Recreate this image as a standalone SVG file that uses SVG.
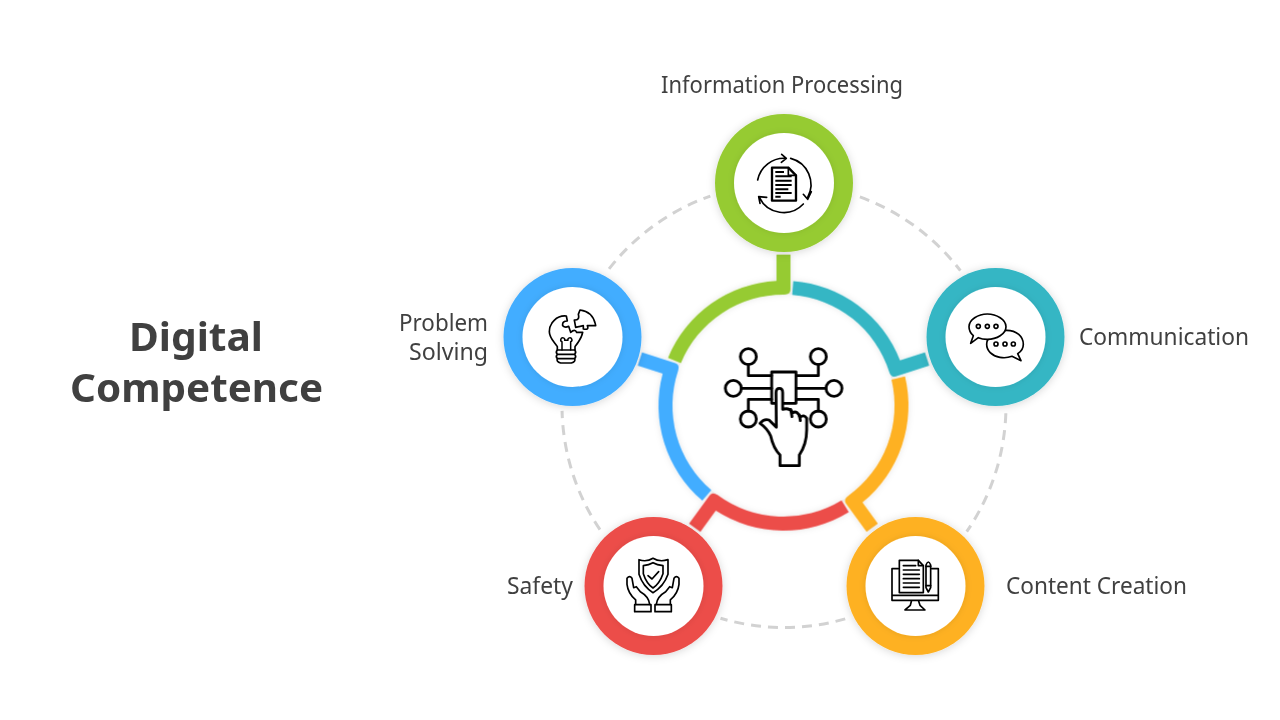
<svg xmlns="http://www.w3.org/2000/svg" width="1280" height="720" viewBox="0 0 1280 720">
<style>
.lbl{font-family:"Noto Sans","Open Sans",sans-serif;font-size:23px;fill:#404040}
.ttl{font-family:"Noto Sans","Open Sans",sans-serif;font-size:40px;font-weight:700;fill:#404040}
.dash{fill:none;stroke:#d2d2d2;stroke-width:3;stroke-dasharray:10 7}
.ic{fill:none;stroke:#000;stroke-linecap:round;stroke-linejoin:round}
.w{fill:#fff}
</style>
<defs>
<filter id="sh" x="-30%" y="-30%" width="160%" height="160%"><feDropShadow dx="0" dy="1" stdDeviation="4" flood-color="#000" flood-opacity=".16"/></filter>
<filter id="sh2" x="-30%" y="-30%" width="160%" height="160%"><feDropShadow dx="0" dy="0" stdDeviation="3" flood-color="#000" flood-opacity=".1"/></filter>
<path id="seg" d="M-115.5,-47.8 A125,125 0 0 1 -7,-124.8 L-7,-151 L7,-151 L7,-116 Q7,-111.2 1,-111 A111,111 0 0 0 -102.6,-42.5 Z"/>
</defs>
<rect width="1280" height="720" fill="#fff"/>
<g id="connectors">
<g class="dash" transform="translate(784,405.5)">
<path d="M75.9,-208.6 A222,222 0 0 1 176.4,-134.8"/>
<path d="M75.9,-208.6 A222,222 0 0 1 176.4,-134.8" transform="rotate(72)"/>
<path d="M75.9,-208.6 A222,222 0 0 1 176.4,-134.8" transform="rotate(144)"/>
<path d="M75.9,-208.6 A222,222 0 0 1 176.4,-134.8" transform="rotate(216)"/>
<path d="M75.9,-208.6 A222,222 0 0 1 176.4,-134.8" transform="rotate(288)"/>
</g>
</g>
<g id="hub">
<circle cx="783.5" cy="405.6" r="111" fill="#fff" filter="url(#sh2)"/>
<g transform="translate(783.5,405.6)" filter="url(#sh2)">
<use href="#seg" fill="#ec4d4a" transform="rotate(216)"/>
<use href="#seg" fill="#feb124" transform="rotate(144)"/>
<use href="#seg" fill="#34b6c4" transform="rotate(72)"/>
<use href="#seg" fill="#43adff" transform="rotate(288)"/>
<use href="#seg" fill="#96cb31"/>
</g>
<g class="ic" transform="translate(700,320) scale(.3333)" stroke-width="8.5">
<circle cx="145" cy="110" r="24"/><circle cx="355" cy="110" r="24"/><circle cx="100" cy="205" r="24"/><circle cx="402" cy="205" r="24"/><circle cx="145" cy="297" r="24"/><circle cx="355" cy="297" r="24"/>
<path d="M145,134V167H215M355,134V167H288M124,205H215M378,205H288M145,273V238H215M355,273V238H288"/>
<rect x="215" y="156" width="73" height="94"/>
<path class="w" d="M229,322L207,300Q192,295 180,310Q202,325 212,348Q220,385 240,405V437H298V405Q320,372 320,330V295Q312,282 300,292Q292,270 278,278Q268,262 248,268V218Q248,205 238,205Q228,205 228,218Z"/>
<path d="M272,268L276,290M298,285L301,302"/>
</g>
</g>
<g id="node-information">
<circle cx="784" cy="183" r="69" fill="#96cb31" filter="url(#sh)"/>
<circle cx="784" cy="183" r="50" fill="#fff" filter="url(#sh2)"/>
<g class="ic" transform="translate(740,140) scale(.3333)" stroke-width="5">
<path d="M53,120A81,81 0 0 1 138,55M125,43L139,55L124,67M152,55A81,81 0 0 1 203,172M214,155L203,178L190,163M190,192A81,81 0 0 1 58,172M80,172L56,170L60,190"/>
<path d="M96,83H145L168,106V182H96Z" stroke-width="7"/><path d="M145,83V106H168" stroke-width="5"/>
<path d="M106,96H132M106,109H155M106,122H155M106,135H155M106,148H145M106,159H155M106,170H122" stroke-width="6" stroke-linecap="butt"/>
</g>
</g>
<g id="node-communication">
<circle cx="995.5" cy="337" r="69" fill="#34b6c4" filter="url(#sh)"/>
<circle cx="995.5" cy="337" r="50" fill="#fff" filter="url(#sh2)"/>
<g class="ic" transform="translate(950,295) scale(.3333)" stroke-width="5">
<path class="w" d="M170,106C200,106 220,125 220,148C220,162 210,172 203,176L213,197L186,184C175,188 160,189 150,187C125,183 110,167 110,148C110,125 135,106 170,106Z"/>
<path class="w" d="M112,57C140,57 168,74 168,95C168,117 140,133 112,133C103,133 92,131 85,128L62,145L70,122C62,115 57,106 57,95C57,74 84,57 112,57Z"/>
<circle cx="85" cy="94" r="6"/><circle cx="112" cy="94" r="6"/><circle cx="138" cy="94" r="6"/>
<circle cx="138" cy="147" r="6"/><circle cx="165" cy="147" r="6"/><circle cx="190" cy="147" r="6"/>
</g>
</g>
<g id="node-content">
<circle cx="915.5" cy="586" r="69" fill="#feb124" filter="url(#sh)"/>
<circle cx="915.5" cy="586" r="50" fill="#fff" filter="url(#sh2)"/>
<g class="ic" transform="translate(875,545) scale(.3333)" stroke-width="5">
<path d="M70,71H51V166H190V71H170M51,151H190M110,166L106,181L90,195H150L135,181L130,166"/>
<path class="w" d="M73,46H130L145,62V143H73Z"/><path d="M130,46V62H145"/>
<path d="M85,62H122M85,75H133M85,88H133M85,101H133M85,114H133M85,127H133"/>
<path class="w" d="M153,60Q160,42 167,60V128L160,141L153,128Z"/><path d="M153,64H167M153,122H167"/>
</g>
</g>
<g id="node-safety">
<circle cx="653.5" cy="586" r="69" fill="#ec4d4a" filter="url(#sh)"/>
<circle cx="653.5" cy="586" r="50" fill="#fff" filter="url(#sh2)"/>
<g class="ic" transform="translate(613,545) scale(.3333)" stroke-width="5">
<path d="M78,44Q100,52 120,40Q140,52 165,44V88Q152,125 120,143Q90,125 78,88Z"/>
<path d="M91,62Q108,60 120,53Q132,60 150,62V86Q140,115 120,129Q100,115 91,86Z"/>
<path d="M105,92L117,102L137,80"/>
<path d="M68,178V165Q45,145 42,118V100Q50,90 57,100L62,128L70,125L82,140Q108,155 110,178"/>
<path d="M172,178V165Q195,145 198,118V100Q190,90 183,100L178,128L170,125L158,140Q132,155 130,178"/>
<rect x="65" y="179" width="49" height="21"/><rect x="126" y="179" width="49" height="21"/>
</g>
</g>
<g id="node-problem">
<circle cx="572.5" cy="337" r="69" fill="#43adff" filter="url(#sh)"/>
<circle cx="572.5" cy="337" r="50" fill="#fff" filter="url(#sh2)"/>
<g class="ic" transform="translate(530,295) scale(.3333)" stroke-width="5">
<path d="M109,63C80,60 58,85 58,110C58,128 72,140 82,155V165H135V155C145,142 155,130 158,112L140,112Q135,100 122,112L116,94Q105,100 98,92Q96,78 112,78Z"/>
<path d="M96,165V140M122,165V140M96,140A6,6 0 1 1 104,136H114A6,6 0 1 1 122,140" stroke-width="4.5"/>
<path d="M82,178H134M82,191H134M92,204H124M82,165Q76,171 82,178Q76,185 82,191Q78,200 92,204M134,165Q140,171 134,178Q140,185 134,191Q138,200 124,204"/>
<path d="M150,45Q190,50 197,92L172,92Q178,106 160,102L160,92L137,97L133,75Q150,76 145,58Z"/>
</g>
</g>
<g id="labels">
<text class="lbl" x="661" y="93" textLength="242" lengthAdjust="spacingAndGlyphs">Information Processing</text>
<text class="lbl" x="1079" y="345" textLength="170" lengthAdjust="spacingAndGlyphs">Communication</text>
<text class="lbl" x="1006" y="594" textLength="181" lengthAdjust="spacingAndGlyphs">Content Creation</text>
<text class="lbl" x="507" y="594" textLength="66" lengthAdjust="spacingAndGlyphs">Safety</text>
<text class="lbl" x="399" y="331" textLength="89" lengthAdjust="spacingAndGlyphs">Problem</text>
<text class="lbl" x="409" y="360" textLength="79" lengthAdjust="spacingAndGlyphs">Solving</text>
<text class="ttl" x="129" y="351" textLength="134" lengthAdjust="spacingAndGlyphs">Digital</text>
<text class="ttl" x="70" y="402" textLength="253" lengthAdjust="spacingAndGlyphs">Competence</text>
</g>
</svg>
